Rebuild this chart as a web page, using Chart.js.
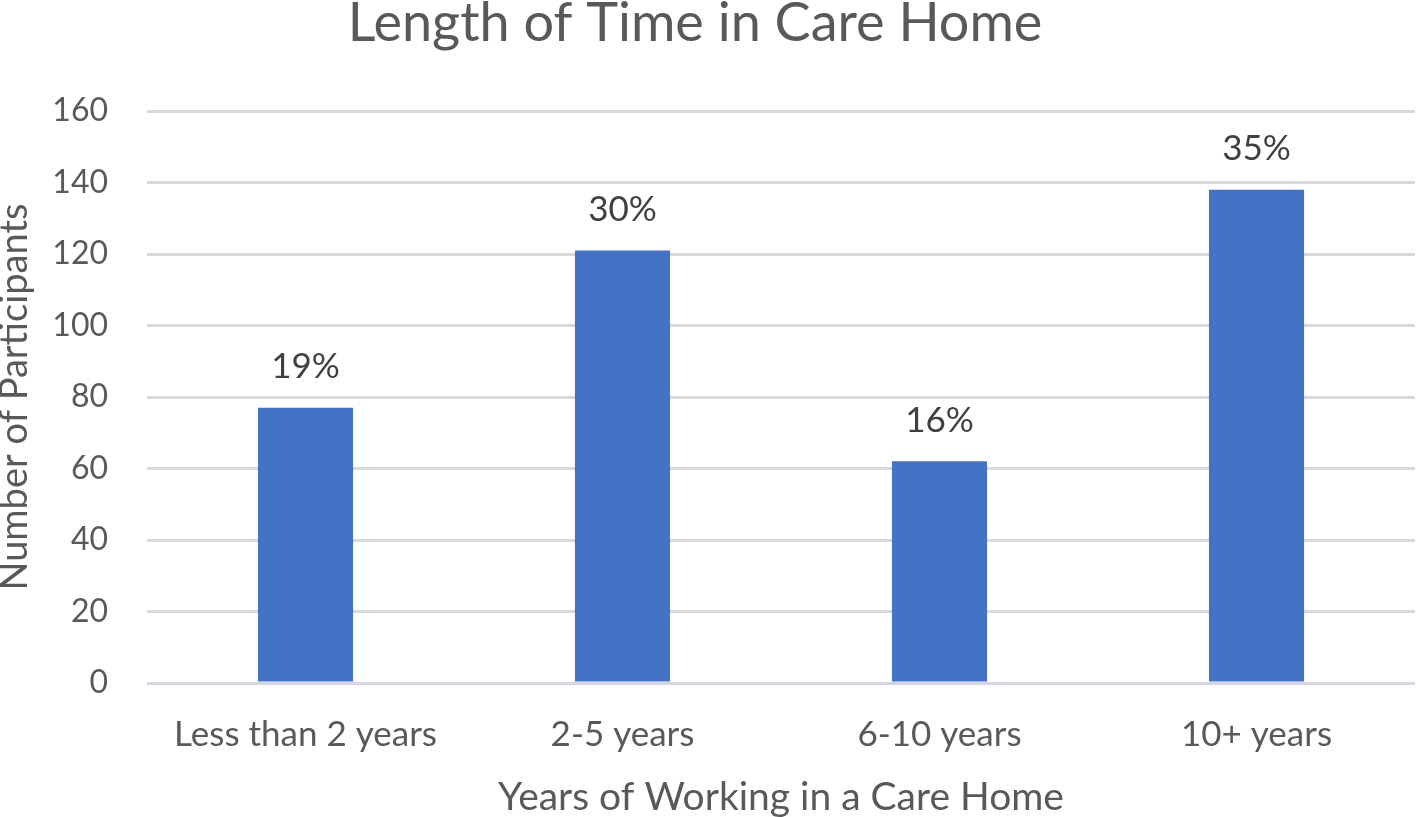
<!DOCTYPE html>
<html>
<head>
<meta charset="utf-8">
<script src="https://cdn.jsdelivr.net/npm/chart.js@4.4.1/dist/chart.umd.min.js"></script>
<style>
html,body{margin:0;padding:0;background:#fff;}
#wrap{width:1416px;height:817px;position:relative;}
</style>
</head>
<body>
<div id="wrap"><canvas id="c" width="1416" height="817"></canvas></div>
<script>
const categories = ["Less than 2 years", "2-5 years", "6-10 years", "10+ years"];
const participants = [77, 121, 62, 138];
const percentLabels = ["19%", "30%", "16%", "35%"];
const yTicks = [0, 20, 40, 60, 80, 100, 120, 140, 160];
const chartTitle = "Length of Time in Care Home";

const FONT = "Lato, 'Open Sans', sans-serif";

const dataLabelPlugin = {
  id: 'dataLabels',
  afterDatasetsDraw(chart) {
    const ctx = chart.ctx;
    const meta = chart.getDatasetMeta(0);
    ctx.save();
    ctx.font = "35px " + FONT;
    ctx.fillStyle = "#404040";
    ctx.textAlign = "center";
    ctx.textBaseline = "middle";
    meta.data.forEach((bar, i) => {
      ctx.fillText(percentLabels[i], bar.x, bar.y - 41);
    });
    ctx.restore();
  }
};

const titlePlugin = {
  id: 'offsetTitle',
  afterDraw(chart) {
    const ctx = chart.ctx;
    ctx.save();
    ctx.font = "54px " + FONT;
    ctx.fillStyle = "#595959";
    ctx.textAlign = "center";
    ctx.textBaseline = "middle";
    ctx.fillText(chartTitle, 695, 24);
    ctx.restore();
  }
};

new Chart(document.getElementById('c'), {
  type: 'bar',
  data: {
    labels: categories,
    datasets: [{
      data: participants,
      backgroundColor: '#4472C4',
      borderWidth: 0,
      barPercentage: 0.3,
      categoryPercentage: 1.0
    }]
  },
  options: {
    responsive: false,
    animation: false,
    devicePixelRatio: 1,
    layout: { padding: { left: 0, right: 1, top: 111, bottom: 0 } },
    plugins: {
      legend: { display: false },
      tooltip: { enabled: false },
      title: { display: false }
    },
    scales: {
      x: {
        afterFit(scale) { scale.height = 134; },
        grid: { display: false },
        border: { display: false },
        ticks: {
          color: '#595959',
          font: { family: FONT, size: 35 },
          padding: 23,
          maxRotation: 0
        },
        title: {
          display: true,
          text: 'Years of Working in a Care Home',
          color: '#595959',
          font: { family: FONT, size: 39 },
          padding: { top: 0, bottom: -4 }
        }
      },
      y: {
        min: 0,
        max: 160,
        afterFit(scale) { scale.width = 147; },
        afterBuildTicks(axis) { axis.ticks = yTicks.map(v => ({ value: v })); },
        grid: {
          color: (c) => (c.tick && c.tick.value === 0) ? '#d5d5e3' : '#d9d9d9',
          lineWidth: 3,
          drawTicks: false
        },
        border: { display: false },
        ticks: {
          color: '#595959',
          font: { family: FONT, size: 32 },
          padding: 39
        },
        title: {
          display: true,
          text: 'Number of Participants',
          color: '#595959',
          font: { family: FONT, size: 38, lineHeight: 1.0 },
          padding: { top: -4, bottom: 0 }
        }
      }
    }
  },
  plugins: [dataLabelPlugin, titlePlugin]
});
</script>
</body>
</html>
